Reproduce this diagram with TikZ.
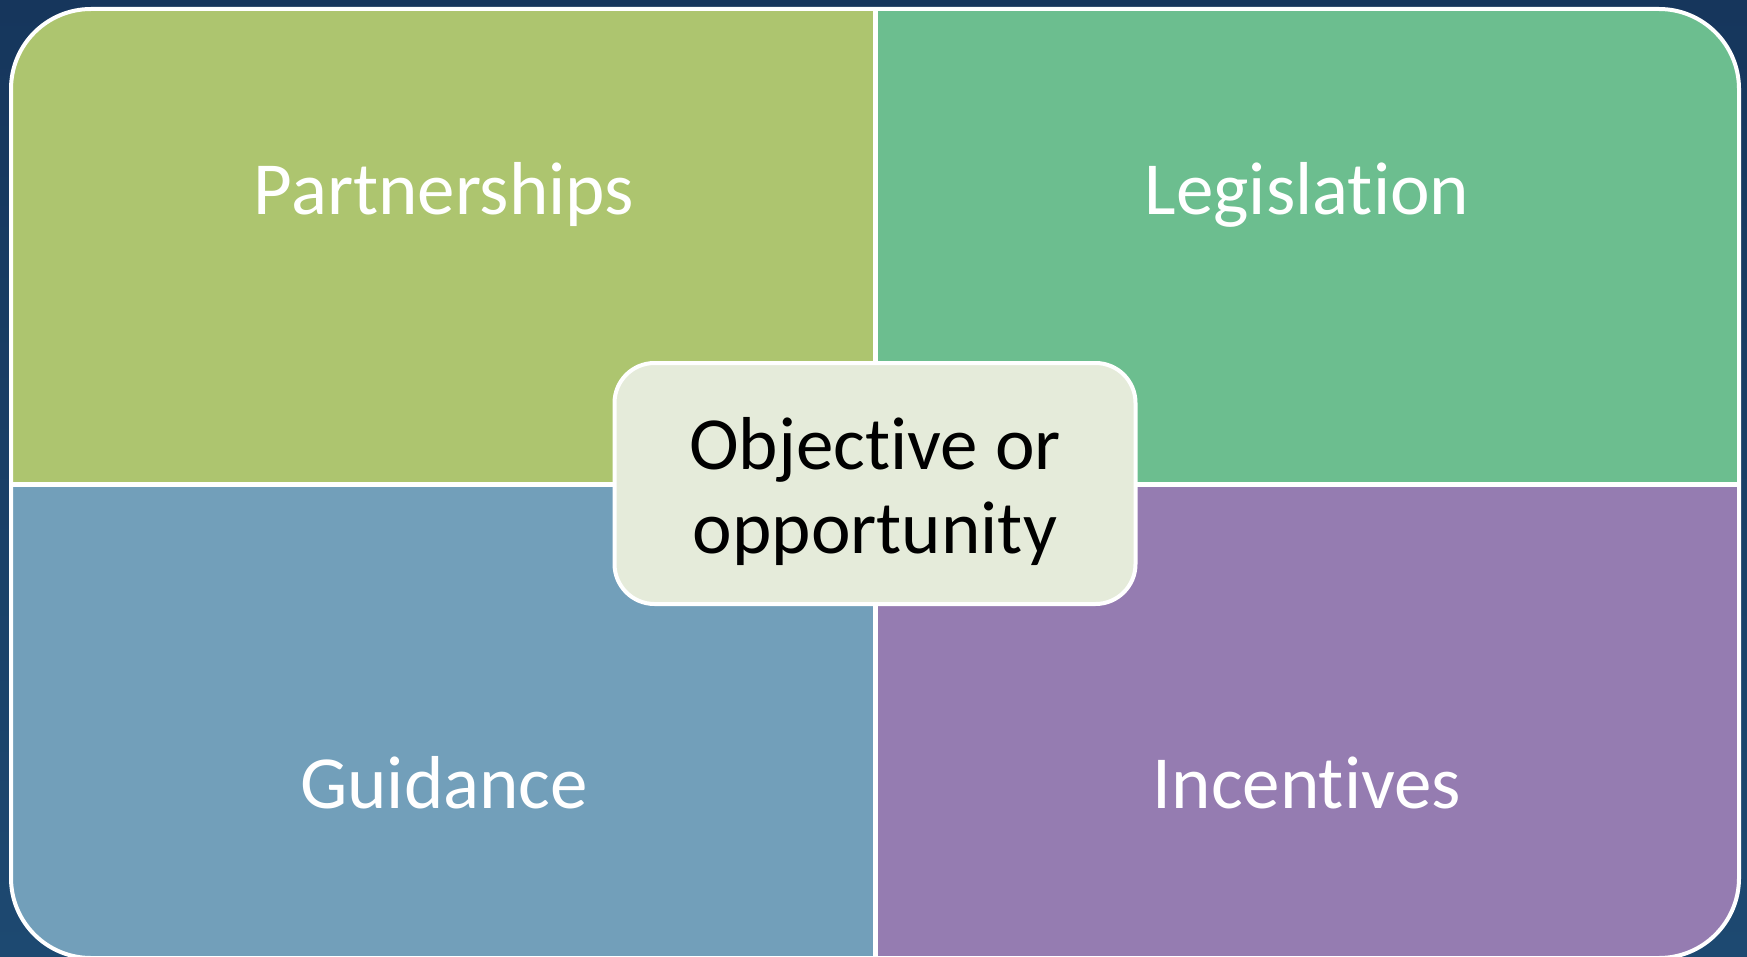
\documentclass[tikz,border=0pt]{standalone}
\usepackage{fontspec}
\setmainfont{Carlito}[Ligatures=NoCommon]
\usetikzlibrary{positioning}
\definecolor{navytop}{HTML}{16365C}
\definecolor{navybot}{HTML}{1D4971}
\definecolor{partgreen}{HTML}{ADC56F}
\definecolor{legisgreen}{HTML}{6CBE8F}
\definecolor{guideblue}{HTML}{729FBA}
\definecolor{incpurple}{HTML}{957CB1}
\definecolor{objfill}{HTML}{E5EBDA}

\begin{document}
\begin{tikzpicture}[x=1pt,y=-1pt, every node/.style={font=\fontsize{75}{84}\selectfont}, quadlabel/.style={text=white,anchor=base}, divider/.style={draw=white,line width=5pt}, objbox/.style={draw=white,line width=4pt,fill=objfill,rounded corners=40pt,minimum width=521pt,minimum height=241pt,inner sep=0pt}, objtext/.style={align=center,inner sep=0pt}]
\useasboundingbox[top color=navytop,bottom color=navybot] (0,0) rectangle (1747,957);
\begin{scope}
\clip[rounded corners=80pt] (11,9) rectangle (1739,958);
\fill[partgreen] (11,9) rectangle (875,484);
\fill[legisgreen] (875,9) rectangle (1739,484);
\fill[guideblue] (11,484) rectangle (875,958);
\fill[incpurple] (875,484) rectangle (1739,958);
\end{scope}
\draw[white,line width=4pt,rounded corners=80pt] (11,9) rectangle (1739,958);
\coordinate (top) at (875,9);
\coordinate (bot) at (875,958);
\coordinate (left) at (11,484);
\coordinate (right) at (1739,484);
\draw[divider] (top) -- (bot);
\draw[divider] (left) -- (right);
% labels
\node[quadlabel] (part) at (444,215) {Partnerships};
\node[quadlabel] (legis) at (1307,215) {Legislation};
\node[quadlabel] (guide) at (444,808) {Guidance};
\node[quadlabel] (incent) at (1307,808) {Incentives};
\node[objbox] (obj) at (875,483.5) {};
\node[objtext] (objlabel) at ([yshift=-8pt]obj.center) {Objective or\\opportunity};
\end{tikzpicture}
\end{document}
